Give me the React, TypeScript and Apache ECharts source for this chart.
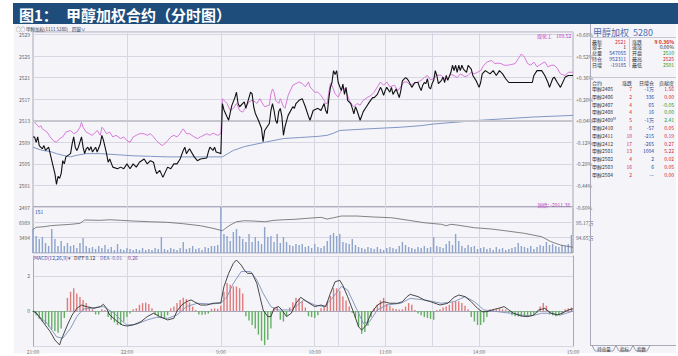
import React, { useEffect, useRef } from "react";
import * as echarts from "echarts";

const FONT = '"Noto Sans CJK SC","Noto Sans",sans-serif';

// ---------- texts ----------
const TITLE_NO = "图1：";
const TITLE = "甲醇加权合约（分时图）";
const CAPTION = "○○ 甲醇加权(1111 5280)";
const CAPTION2 = "四窗∨";
const INDEX_NAME = "煤化工";
const INDEX_VALUE = "109.52";
const BASIS_TEXT = "国债: -2911.38";
const VOL_TAG = "151";
const MACD_NAME = "MACD(12,26,9)▾";
const MACD_DIFF = "DIFF 0.12";
const MACD_DEA = "DEA -0.01";
const MACD_VAL = "0.26";

// ---------- time axis ----------
const sessions: [string, string][] = [["21:00", "23:00"], ["9:00", "10:15"], ["10:30", "11:30"], ["13:30", "15:00"]];
const xLabelTimes = ["21:00", "22:00", "9:00", "10:00", "11:00", "14:00", "15:00"];
const xGridTimes = ["22:00", "9:00", "10:00", "10:30", "11:00", "13:30", "14:00"];

// ---------- price scale ----------
const PRICE_BASE = 2497;
const PRICE_TOP = 2529.47;
const PRICE_STEP = 4;
const PREV_SETTLE = 2512;
const REF_LINE = 2513;

// [minute index, price]
const pricePts: [number, number][] = [
  [0,2510.0],[1,2510.0],[2,2509.0],[3,2510.0],[4,2508.4],[6,2507.8],[7,2508.4],[8,2507.5],[10,2508.1],[12,2505.6],[13,2504.4],[14,2503.2],[15,2501.2],[16,2502.7],[17,2502.3],[18,2503.2],[19,2505.6],[20,2505.0],[21,2506.3],[24,2506.9],[25,2508.7],[26,2510.0],[27,2508.1],[28,2507.5],[29,2508.1],[31,2510.0],[32,2508.1],[33,2506.9],[34,2507.8],[35,2508.1],[36,2507.5],[37,2508.2],[38,2507.2],[40,2508.1],[41,2507.2],[43,2508.7],[44,2510.3],[45,2509.4],[47,2506.9],[48,2505.3],[49,2505.9],[51,2504.4],[54,2504.1],[56,2504.4],[58,2504.1],[60,2505.0],[62,2504.1],[64,2505.0],[66,2504.4],[68,2505.3],[71,2505.9],[73,2505.0],[75,2505.6],[77,2505.3],[78,2504.1],[79,2503.2],[81,2503.8],[83,2502.5],[86,2504.4],[88,2504.1],[90,2505.0],[92,2505.0],[94,2505.9],[96,2507.5],[97,2508.1],[98,2506.9],[100,2507.8],[103,2506.3],[105,2505.6],[107,2505.9],[111,2506.1],[112,2507.2],[113,2508.1],[115,2507.5],[116,2508.1],[117,2507.2],[119,2507.0],[120,2506.9],
  [121,2516.2],[122,2515.0],[124,2513.7],[125,2513.1],[127,2515.8],[129,2517.3],[130,2518.3],[131,2516.2],[132,2515.6],[135,2516.5],[136,2515.3],[138,2517.3],[139,2518.3],[140,2518.0],[141,2515.6],[142,2514.4],[144,2513.1],[146,2511.6],[147,2509.1],[148,2511.2],[151,2512.5],[152,2514.9],[153,2516.2],[154,2514.9],[155,2513.1],[156,2512.5],[157,2514.7],[158,2515.3],[159,2513.8],[160,2510.3],[161,2511.9],[163,2514.0],[166,2515.6],[167,2515.3],[168,2516.2],[170,2516.8],[172,2517.1],[174,2515.6],[176,2513.8],[177,2513.1],[179,2514.9],[182,2515.3],[184,2514.9],[186,2516.2],[187,2514.9],[188,2514.3],[189,2517.1],[190,2519.2],[191,2520.1],[192,2522.3],[193,2521.6],[194,2522.3],[195,2520.1],[197,2518.6],[198,2519.8],[199,2517.9],[200,2519.2],[201,2516.8],[203,2516.2],[204,2515.3],[205,2514.3],[206,2515.6],[207,2514.9],[209,2513.1],[211,2514.7],[213,2515.6],[215,2516.5],[217,2517.3],[218,2517.3],[220,2517.9],[222,2519.2],[223,2518.6],[224,2517.7],[225,2518.6],[226,2519.2],[228,2518.3],[229,2519.2],[230,2517.9],[232,2518.9],[234,2517.3],[235,2518.6],[236,2520.4],[238,2521.0],[239,2520.8],[240,2520.4],[241,2519.8],[242,2519.2],[244,2520.1],[246,2520.1],[247,2519.2],[248,2518.6],[249,2519.6],[250,2520.1],[251,2519.9],[252,2520.8],[253,2519.2],[254,2518.9],[255,2519.9],[256,2520.5],[257,2522.3],[258,2521.4],[259,2519.9],[261,2520.5],[262,2521.1],[263,2520.1],[264,2521.4],[265,2520.5],[267,2522.0],[268,2523.3],[269,2522.3],[270,2523.3],[271,2522.0],[272,2523.3],[273,2522.3],[274,2523.3],[275,2522.6],[277,2522.0],[278,2523.3],[280,2522.6],[281,2521.4],[283,2520.5],[285,2519.2],[286,2520.1],[287,2521.7],[289,2522.3],[292,2521.7],[294,2522.3],[296,2521.4],[298,2522.3],[300,2521.7],[302,2520.8],[304,2520.1],[319,2520.1],[320,2521.4],[322,2522.3],[325,2522.3],[327,2521.4],[329,2520.1],[330,2519.2],[332,2520.8],[333,2521.1],[335,2520.1],[337,2519.2],[340,2521.1],[342,2521.4],[345,2521.4]
];

const indexPts: [number, number][] = [
  [0,2513.2],[2,2512.4],[4,2511.8],[5,2512.1],[6,2511.5],[9,2510.9],[11,2510.0],[13,2509.3],[15,2509.0],[17,2509.7],[19,2510.0],[21,2510.9],[24,2511.2],[26,2510.6],[28,2510.9],[30,2511.8],[31,2512.7],[32,2511.8],[34,2510.9],[36,2510.6],[38,2510.3],[41,2511.2],[43,2510.3],[44,2511.8],[45,2511.5],[47,2510.6],[49,2510.9],[51,2510.0],[53,2510.3],[56,2509.7],[58,2510.0],[60,2509.3],[62,2509.0],[64,2510.0],[66,2510.3],[68,2510.6],[71,2510.6],[73,2510.3],[75,2510.6],[77,2510.0],[79,2509.3],[81,2508.7],[83,2508.4],[86,2509.3],[88,2510.0],[90,2510.3],[92,2510.0],[94,2510.6],[95,2511.2],[96,2511.5],[98,2510.6],[100,2510.6],[103,2510.0],[105,2509.7],[107,2510.0],[111,2510.6],[113,2510.3],[115,2510.7],[118,2510.3],[120,2510.6],
  [121,2517.1],[123,2516.5],[124,2516.2],[126,2514.9],[128,2515.3],[130,2516.2],[131,2515.6],[132,2514.9],[134,2514.6],[136,2515.6],[138,2516.5],[140,2516.8],[142,2516.5],[143,2516.2],[145,2517.1],[146,2516.5],[148,2515.6],[151,2515.9],[152,2518.0],[153,2518.9],[154,2518.3],[155,2516.8],[157,2516.2],[158,2517.1],[160,2515.6],[161,2515.3],[163,2517.7],[166,2519.6],[168,2519.9],[170,2520.2],[172,2519.9],[174,2519.3],[176,2520.2],[177,2519.3],[180,2518.3],[182,2518.3],[184,2517.7],[186,2516.8],[187,2516.2],[188,2516.2],[189,2518.3],[190,2519.9],[191,2519.6],[193,2518.0],[195,2517.4],[198,2519.3],[200,2518.6],[202,2516.8],[204,2515.9],[205,2515.6],[207,2516.2],[209,2515.9],[211,2516.8],[214,2517.4],[216,2517.7],[218,2518.3],[220,2519.3],[222,2520.2],[224,2519.6],[226,2520.2],[228,2519.3],[231,2519.6],[233,2518.6],[235,2519.3],[237,2520.2],[239,2520.2],[241,2519.6],[243,2519.9],[246,2520.2],[248,2520.5],[250,2521.0],[252,2521.4],[254,2520.6],[256,2520.8],[258,2521.5],[261,2521.4],[263,2520.7],[265,2520.8],[267,2521.6],[269,2521.4],[271,2521.0],[273,2521.7],[276,2521.2],[278,2521.4],[280,2522.0],[282,2521.7],[286,2522.3],[288,2523.3],[290,2523.9],[293,2524.2],[295,2523.6],[297,2523.7],[299,2523.6],[301,2523.3],[303,2523.3],[305,2523.4],[308,2523.6],[310,2524.5],[312,2525.4],[314,2524.8],[316,2523.6],[318,2523.3],[320,2523.9],[322,2523.0],[325,2523.6],[327,2523.9],[329,2523.0],[331,2523.3],[333,2523.3],[335,2522.7],[337,2521.7],[340,2521.4],[342,2522.0],[345,2522.0]
];

const avgPts: [number, number][] = [
  [0,2508.1],[6,2507.5],[11,2507.3],[15,2506.9],[19,2506.6],[24,2506.3],[28,2506.6],[34,2506.9],[43,2506.9],[54,2506.7],[64,2506.5],[75,2506.4],[86,2506.3],[107,2506.3],[121,2506.3],[128,2507.5],[135,2508.2],[143,2508.7],[148,2509.0],[160,2509.7],[171,2509.9],[182,2510.1],[188,2510.3],[192,2510.7],[196,2511.2],[214,2511.5],[235,2511.8],[248,2512.1],[256,2512.4],[286,2513.1],[320,2513.7],[345,2514.0]
];

// ---------- volume (every 2 minutes) ----------
const VOL_STEP = 2;
const VOL_TICK = 3494.5;
const volumeLots: number[] = [
  5470,3880,3190,3650,2280,1600,5470,3190,1600,2740,1600,2280,1600,1820,1140,2280,3420,1600,1140,1370,910,1600,1140,1820,910,1370,680,2050,910,680,1140,910,680,910,680,1140,680,910,680,1140,910,3650,910,680,1140,910,680,1140,2510,910,1140,1600,910,1140,680,1370,1140,1600,1600,1820,
  10940,4330,3880,2740,4790,5470,3880,3190,2510,4330,2510,3650,2740,2050,5930,3650,3880,2510,4330,2280,3650,2510,1820,1600,2050,1820,2050,1370,1600,1140,2050,1370,1140,1600,2740,4100,4560,3880,4330,
  2510,2280,2050,3190,1820,1370,1140,910,1370,1140,910,1370,910,680,1140,1370,1140,910,1600,2510,1820,1370,1140,910,1370,1140,1600,1140,1370,3650,1600,1370,1140,2050,2740,1820,4330,2740,1600,1140,1820,1370,1600,910,1140,1370,910,1140,680,1370,910,1140,680,910,1140,1370,2280,1600,1370,1140,1600,910,1370,1820,1600,2510,1820,2050,1600,1370,1820,1600,2050,4100
];

// open interest [minute index, lots]
const OI_BASE = 941300;
const OI_TICK = 5200;
const oiPts: [number, number][] = [
  [0,949327],[2,950005],[7,950208],[11,950547],[17,950785],[24,951022],[30,951361],[33,952480],[43,952378],[49,952581],[56,952378],[64,952141],[75,951903],[86,951700],[96,951225],[107,950547],[115,949666],[121,948852],[123,949666],[126,950785],[130,951903],[135,952242],[141,952141],[148,951903],[154,952378],[160,952581],[167,952717],[175,953056],[184,953395],[188,952819],[192,953259],[197,953836],[207,953836],[218,953497],[229,953259],[239,952480],[250,951564],[261,951022],[264,950547],[267,951022],[271,950785],[282,949869],[293,949429],[303,948751],[314,947971],[325,946818],[331,945124],[337,944005],[345,943225]
];

// ---------- MACD ----------
const HIST_STEP = 2;
const macdHist: number[] = [
  -0.05,-0.25,-0.45,-0.6,-0.75,-0.9,-1.05,-1.15,-1.25,-1.0,-0.4,0.75,1.1,1.3,1.0,0.8,0.62,0.45,0.25,0.1,-0.2,-0.2,0.1,0.05,-0.35,-0.5,-0.65,-0.8,-0.8,-0.6,-0.35,-0.15,0.1,0.15,0.35,0.45,0.48,0.4,0.15,-0.2,-0.32,-0.4,-0.42,-0.25,0.15,0.25,0.45,0.62,0.75,0.68,0.48,0.25,0.05,-0.2,-0.22,-0.2,-0.15,0.12,0.15,0.12,
  0.3,1.1,1.6,1.5,1.4,1.4,1.3,1.0,-0.3,-0.55,-0.8,-1.0,-1.35,-1.7,-1.95,-1.65,-1.0,0.2,0.25,-0.5,-0.6,-0.3,0.2,0.5,0.75,0.7,0.55,0.2,-0.3,-0.35,-0.4,-0.25,0.15,0.25,0.5,0.85,1.3,1.3,1.15,
  0.82,0.6,0.25,-0.1,-0.4,-0.9,-1.3,-1.2,-0.85,-0.35,0.15,0.35,0.6,0.75,0.4,0.3,0.15,0.12,0.08,0.1,0.25,0.45,0.35,0.05,-0.15,-0.25,-0.35,-0.4,-0.45,-0.5,0.05,0.1,0.2,0.25,0.35,0.5,0.55,0.55,0.45,0.3,0.1,-0.35,-0.6,-0.8,-0.8,-0.65,-0.35,0.1,0.12,0.1,0.15,0.1,0.08,-0.1,-0.25,-0.3,-0.32,-0.3,-0.3,-0.32,-0.25,-0.2,-0.1,0.25,0.45,0.3,-0.2,-0.25,-0.3,-0.25,-0.15,0.1,0.15,0.2
];
const diffPts: [number, number][] = [
  [0,0],[2,-0.1],[7,-0.70],[11,-1.18],[14,-1.66],[17,-1.94],[18,-1.66],[22,-0.80],[25,-0.23],[28,0.15],[31,0.34],[34,0.25],[39,0.15],[43,0.25],[45,0.38],[47,0.15],[49,-0.23],[54,-0.61],[57,-0.80],[60,-0.86],[64,-0.80],[69,-0.61],[73,-0.32],[77,-0.13],[81,-0.32],[86,-0.51],[90,-0.42],[92,0],[95,0.34],[98,0.53],[101,0.63],[103,0.53],[107,0.34],[111,0.34],[115,0.44],[120,0.47],[122,1.39],[125,2.15],[128,2.72],[130,2.91],[133,2.62],[135,2.34],[137,2.15],[140,2.15],[143,1.58],[145,0.82],[147,0.06],[150,-0.32],[152,-0.32],[154,0.15],[157,0.25],[159,0.06],[162,-0.32],[165,-0.13],[168,0.44],[171,0.78],[175,0.53],[180,0.25],[184,0.34],[187,0.25],[190,1.01],[193,1.67],[196,1.75],[198,1.45],[201,0.82],[205,-0.13],[208,-0.90],[210,-1.09],[213,-0.80],[216,-0.13],[220,0.34],[224,0.53],[228,0.44],[233,0.44],[236,0.53],[239,0.82],[241,0.95],[246,0.82],[250,0.63],[254,0.53],[260,0.34],[265,0.44],[269,0.78],[272,0.91],[276,0.82],[280,0.53],[284,0.15],[287,-0.04],[290,-0.04],[295,0.10],[299,0.19],[301,0.25],[304,0.06],[307,-0.13],[312,-0.29],[316,-0.32],[320,-0.23],[323,0.06],[327,0.15],[331,-0.13],[335,-0.23],[338,-0.13],[342,0.06],[345,0.12]
];
const deaPts: [number, number][] = [
  [0,0],[9,-0.70],[15,-1.47],[19,-1.56],[24,-0.99],[28,-0.32],[32,0.10],[39,0.19],[45,0.25],[52,-0.13],[56,-0.51],[60,-0.80],[66,-0.76],[73,-0.51],[79,-0.36],[86,-0.42],[92,-0.23],[98,0.25],[105,0.44],[113,0.40],[120,0.44],[124,0.82],[128,1.58],[133,2.25],[139,2.25],[143,1.77],[147,1.01],[152,0.25],[156,0.06],[160,0.06],[165,0.06],[169,0.34],[173,0.63],[180,0.34],[186,0.25],[192,0.82],[197,1.40],[201,1.2],[207,0.06],[211,-0.70],[215,-0.61],[220,0.06],[226,0.34],[235,0.44],[241,0.72],[250,0.63],[261,0.44],[269,0.53],[276,0.82],[282,0.53],[288,0.06],[297,-0.04],[305,-0.13],[312,-0.23],[318,-0.29],[325,-0.13],[331,-0.13],[337,-0.23],[345,-0.01]
];
const MACD_LABELS = [0, 2];

// ---------- right info panel ----------
const panelTitle = "甲醇加权";
const panelCode = "5280";
const quoteNamesL = ["最新", "现手", "总量", "持仓", "日增"];
const quoteValsL = ["2521", "1", "547055", "952311", "-19185"];
const quoteNamesR = ["涨跌", "速涨", "开盘", "最高", "最低"];
const quoteValsR = ["9 0.36%", "0.00%", "2510", "2525", "2501"];
const tableHead = ["合约", "涨跌", "日增仓", "贡献度"];
const contracts = ["甲醇2405", "甲醇2406", "甲醇2407", "甲醇2408", "甲醇2409", "甲醇2410", "甲醇2411", "甲醇2412", "甲醇2501", "甲醇2502", "甲醇2503", "甲醇2504"];
const mainContract = "甲醇2409";
const contractChange = ["7", "2", "4", "4", "5", "8", "10", "17", "13", "4", "16", "2"];
const contractOiChange = ["-1万", "336", "65", "16", "-1万", "-57", "-215", "-265", "1004", "2", "6", "—"];
const contractContrib = ["1.56", "0.00", "-0.05", "0.00", "2.41", "0.05", "0.19", "0.27", "5.22", "0.02", "0.05", "0.00"];
const contribDir = ["up", "up", "down", "down", "down", "up", "up", "up", "up", "up", "up", "up"];
const tabNames = ["持仓量", "指标", "指数"];

// ---------- build ----------
const toMin = (s: string) => { const [h, m] = s.split(":").map(Number); return h * 60 + m; };
const fmtT = (t: number) => `${Math.floor(t / 60)}:${String(t % 60).padStart(2, "0")}`;
const times: string[] = [];
sessions.forEach(([a, b]) => { for (let t = toMin(a); t < toMin(b); t++) times.push(fmtT(t)); });
times.push(sessions[sessions.length - 1][1]);
const labelIdx = new Set(xLabelTimes.map((t) => times.indexOf(t)));
const gridIdx = new Set(xGridTimes.map((t) => times.indexOf(t)));

const RED = "#d42a2a";
const GREEN = "#1f9a2a";
const BLUE = "#2a48a0";
const DARK = "#333";
const GRID_C = "#d7d7e3";
const AXIS_C = "#a8a8b8";

function txt(x: number, y: number, text: string, size: number, color: string, align = "left", weight: any = "normal") {
  return {
    type: "text", x, y, silent: true, z: 50,
    style: { text, fill: color, fontSize: size, fontFamily: FONT, fontWeight: weight, textAlign: align, align, textVerticalAlign: "middle", verticalAlign: "middle" },
  };
}
function hline(x1: number, x2: number, y: number, color: string, w = 1) {
  return { type: "line", silent: true, z: 40, shape: { x1, y1: y, x2, y2: y }, style: { stroke: color, lineWidth: w } };
}
function vline(x: number, y1: number, y2: number, color: string, w = 1) {
  return { type: "line", silent: true, z: 40, shape: { x1: x, y1, x2: x, y2 }, style: { stroke: color, lineWidth: w } };
}

function buildOption() {
  const xAxes = [0, 1, 2].map((g) => ({
    type: "category", gridIndex: g, data: times, boundaryGap: false,
    axisTick: { show: false },
    axisLine: { show: g === 2, lineStyle: { color: AXIS_C } },
    axisLabel: {
      show: g === 2, interval: (i: number) => labelIdx.has(i), fontSize: 5, color: "#777", margin: 3, fontFamily: FONT,
    },
    splitLine: { show: true, interval: (i: number) => gridIdx.has(i), lineStyle: { color: GRID_C, width: 1 } },
  }));

  const lblStyle = { fontSize: 5, color: "#666", fontFamily: FONT };
  const pct = (v: number) => {
    const p = ((v + PRICE_BASE - PREV_SETTLE) / PREV_SETTLE) * 100;
    return (p >= 0 ? "+" : "") + p.toFixed(2) + "%";
  };
  const yAxes: any[] = [
    { type: "value", gridIndex: 0, min: 0, max: PRICE_TOP - PRICE_BASE, interval: PRICE_STEP, position: "left",
      axisLine: { show: false }, axisTick: { show: false },
      axisLabel: { ...lblStyle, margin: 3, formatter: (v: number) => String(Math.round(v + PRICE_BASE)) },
      splitLine: { show: true, lineStyle: { color: GRID_C } } },
    { type: "value", gridIndex: 0, min: 0, max: PRICE_TOP - PRICE_BASE, interval: PRICE_STEP, position: "right",
      axisLine: { show: false }, axisTick: { show: false },
      axisLabel: { ...lblStyle, margin: 3, formatter: pct }, splitLine: { show: false } },
    { type: "value", gridIndex: 1, min: 0, max: VOL_TICK * 3, interval: VOL_TICK, position: "left",
      axisLine: { show: false }, axisTick: { show: false },
      axisLabel: { ...lblStyle, margin: 3, formatter: (v: number) => (v > 0 && v < VOL_TICK * 2.5 ? String(Math.floor(v)) : "") },
      splitLine: { show: true, lineStyle: { color: GRID_C } } },
    { type: "value", gridIndex: 1, min: 0, max: OI_TICK * 3, interval: OI_TICK, position: "right",
      axisLine: { show: false }, axisTick: { show: false },
      axisLabel: { ...lblStyle, margin: 3, formatter: (v: number) => (v > 0 && v < OI_TICK * 2.5 ? ((v + OI_BASE) / 10000).toFixed(2) + "万" : "") },
      splitLine: { show: false } },
    { type: "value", gridIndex: 2, min: -2, max: 3.14, interval: 2, position: "left",
      axisLine: { show: true, lineStyle: { color: AXIS_C } }, axisTick: { show: false },
      axisLabel: { ...lblStyle, margin: 3, formatter: (v: number) => (MACD_LABELS.indexOf(v) >= 0 ? String(v) : "") },
      splitLine: { show: true, lineStyle: { color: GRID_C } } },
    { type: "value", gridIndex: 2, min: -2, max: 3.14, interval: 2, position: "right",
      axisLine: { show: true, lineStyle: { color: AXIS_C } }, axisTick: { show: false },
      axisLabel: { show: false }, splitLine: { show: false } },
  ];

  const off = (pts: [number, number][]) => pts.map(([i, p]) => [i, +(p - PRICE_BASE).toFixed(2)]);

  const series: any[] = [
    { type: "line", name: "avg", xAxisIndex: 0, yAxisIndex: 0, data: off(avgPts), symbol: "none",
      lineStyle: { color: "#8096c4", width: 1 }, z: 3 },
    { type: "line", name: "index", xAxisIndex: 0, yAxisIndex: 0, data: off(indexPts), symbol: "none",
      lineStyle: { color: "#d77ad9", width: 1 }, z: 4 },
    { type: "line", name: "price", xAxisIndex: 0, yAxisIndex: 0, data: off(pricePts), symbol: "none",
      lineStyle: { color: "#111", width: 1.1 }, z: 5,
      markLine: { silent: true, symbol: "none", label: { show: false },
        lineStyle: { color: "#c6c6ce", width: 2, type: "solid" }, data: [{ yAxis: REF_LINE - PRICE_BASE }] } },
    { type: "bar", name: "vol", xAxisIndex: 1, yAxisIndex: 2, barWidth: 1.4,
      data: volumeLots.map((v, k) => [k * VOL_STEP, v]), itemStyle: { color: "#8ea4cb" } },
    { type: "line", name: "oi", xAxisIndex: 1, yAxisIndex: 3, symbol: "none",
      data: oiPts.map(([i, v]) => [i, v - OI_BASE]), lineStyle: { color: "#666", width: 0.8 } },
    { type: "bar", name: "hist", xAxisIndex: 2, yAxisIndex: 4, barWidth: 1.4,
      data: macdHist.map((v, k) => ({ value: [k * HIST_STEP, v], itemStyle: { color: v >= 0 ? "#e07b7b" : "#63b063" } })) },
    { type: "line", name: "dea", xAxisIndex: 2, yAxisIndex: 4, symbol: "none", data: deaPts,
      lineStyle: { color: "#7d90b8", width: 0.9 }, z: 4 },
    { type: "line", name: "diff", xAxisIndex: 2, yAxisIndex: 4, symbol: "none", data: diffPts,
      lineStyle: { color: "#333", width: 0.9 }, z: 5 },
  ];

  // graphics
  const g: any[] = [];
  g.push({ type: "rect", silent: true, z: 30, shape: { x: 13, y: 3, width: 665, height: 21 }, style: { fill: "#1f4d7b" } });
  g.push(txt(19, 14, TITLE_NO, 15, "#fff", "left", "bold"));
  g.push(txt(66, 14, TITLE, 15, "#fff", "left", "bold"));
  g.push(txt(16, 29, CAPTION, 4.5, "#334", "left"));
  g.push(txt(72, 29, CAPTION2, 4.5, "#334", "left"));
  g.push(txt(537, 35, INDEX_NAME, 5, "#c03ac0", "left"));
  g.push(txt(556, 35, INDEX_VALUE, 5, "#c03ac0", "left"));
  g.push(txt(570, 204, BASIS_TEXT, 5, "#c03ac0", "right"));
  g.push(txt(35, 211, VOL_TAG, 5, BLUE, "left"));
  g.push(txt(34, 257, MACD_NAME, 5, "#4450b0", "left"));
  g.push(txt(74, 257, MACD_DIFF, 5, DARK, "left"));
  g.push(txt(100, 257, MACD_DEA, 5, "#4a70b8", "left"));
  g.push(txt(128, 257, MACD_VAL, 5, "#8a3a8a", "left"));

  // right panel frame
  g.push(vline(590.5, 24, 345, "#a9a9b9"));
  g.push(hline(590, 676, 37.5, "#c8c8d4"));
  g.push(hline(590, 676, 77.5, "#c8c8d4"));
  g.push(vline(629.5, 38, 67, "#c8c8d4"));
  g.push(txt(593, 32, panelTitle, 9, "#4d6db0", "left"));
  g.push(txt(633, 32, panelCode, 9, "#4d6db0", "left"));
  const colL = [RED, DARK, BLUE, BLUE, BLUE];
  const colR = [RED, DARK, GREEN, RED, GREEN];
  quoteNamesL.forEach((n, i) => {
    const y = 41 + i * 5.9;
    g.push(txt(592, y, n, 5, DARK, "left"));
    g.push(txt(626, y, quoteValsL[i], 5, colL[i], "right"));
    g.push(txt(632, y, quoteNamesR[i], 5, DARK, "left"));
    g.push(txt(674, y, quoteValsR[i], 5, colR[i], "right", i === 0 ? "bold" : "normal"));
  });
  const headX = [592, 632, 654, 674];
  const headA = ["left", "right", "right", "right"];
  tableHead.forEach((h, i) => g.push(txt(headX[i], 82, h, 5, DARK, headA[i])));
  contracts.forEach((c, i) => {
    const y = 88.5 + i * 7.8;
    g.push(txt(592, y, c, 5, DARK, "left"));
    if (c === mainContract) g.push(txt(613, y - 1.5, "M", 3.5, BLUE, "left"));
    g.push(txt(632, y, contractChange[i], 5, RED, "right"));
    g.push(txt(654, y, contractOiChange[i], 5, BLUE, "right"));
    g.push(txt(674, y, contractContrib[i], 5, contribDir[i] === "up" ? RED : GREEN, "right"));
  });

  // tabs
  g.push(hline(590, 676, 345.5, "#a9a9b9"));
  const tabs = [[592, 616], [616, 633], [633, 650]];
  tabs.forEach(([a, b], i) => {
    g.push({ type: "polyline", silent: true, z: 40, shape: { points: [[a, 345.5], [a + 3, 351], [b - 3, 351], [b, 345.5]] },
      style: { stroke: "#8a8a9a", fill: "none", lineWidth: 0.8 } });
    g.push(txt((a + b) / 2, 348.5, tabNames[i], 4.5, DARK, "center"));
  });

  const gridBase = { left: 33, width: 540, containLabel: false, outerBoundsMode: "none" };
  return {
    animation: false,
    textStyle: { fontFamily: FONT },
    grid: [
      { ...gridBase, top: 32, height: 175, show: true, borderColor: AXIS_C, borderWidth: 1, backgroundColor: "transparent" },
      { ...gridBase, top: 207, height: 46, show: true, borderColor: "#8f8f9c", borderWidth: 1, backgroundColor: "transparent" },
      { ...gridBase, top: 256, height: 90, show: false },
    ],
    xAxis: xAxes,
    yAxis: yAxes,
    series,
    graphic: { elements: g },
  };
}

export default function App() {
  const ref = useRef<HTMLDivElement>(null);
  useEffect(() => {
    const chart = echarts.init(ref.current as HTMLDivElement, null, { renderer: "svg" });
    chart.setOption(buildOption() as any);
    return () => chart.dispose();
  }, []);
  return (
    <div style={{ position: "fixed", left: 0, top: 0, width: 678, height: 356, background: "#fff", overflow: "hidden" }}>
      <div style={{ position: "absolute", left: 14, top: 24, width: 662, height: 329, background: "#f4f4f9" }} />
      <div ref={ref} style={{ position: "absolute", left: 0, top: 0, width: 678, height: 356 }} />
    </div>
  );
}
